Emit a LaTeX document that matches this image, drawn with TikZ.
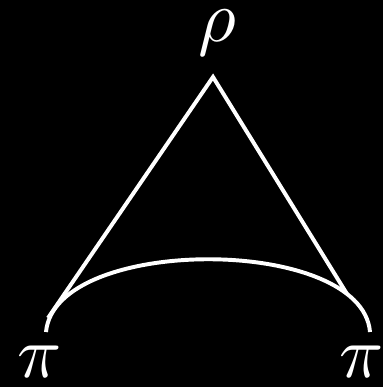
\documentclass[tikz,border=0pt]{standalone}
\usepackage{amsmath}
\usetikzlibrary{positioning}

\begin{document}
\begin{tikzpicture}[x=0.025cm, y=-0.025cm,
    line/.style={draw=white, line width=2.8pt},
    lbl/.style={text=white, inner sep=0pt, scale=5.2}]
            % 背景
            \fill[black] (0,0) rectangle (383,387);
            \useasboundingbox (0,0) rectangle (383,387);

            % 标签
            \node[lbl] (rho) at (217,33) {$\rho$};
            \node[lbl] (piL) at (40,362) {$\pi$};
            \node[lbl] (piR) at (362,362) {$\pi$};

            % 顶点
            \coordinate (top) at (213,77);
            \coordinate (left) at (48,318);
            \coordinate (right) at (347,294);
            \coordinate (endL) at (46,332);
            \coordinate (endR) at (370,332);

            % 线
            \draw[line] (left) -- (top) -- (right);
            \draw[line] (endL) .. controls (55,235) and (362,235) .. (endR);
        \end{tikzpicture}
\end{document}
